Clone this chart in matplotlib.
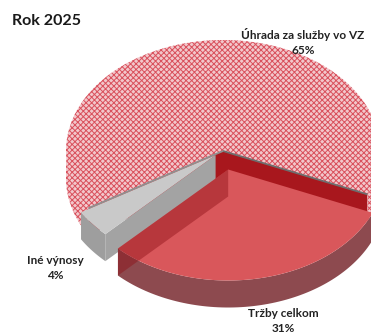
import numpy as np
import matplotlib.pyplot as plt
from matplotlib.patches import Polygon

plt.rcParams['hatch.linewidth'] = 0.7

# podiel výnosov za rok 2025 (%)
categories = ["Úhrada za služby vo VZ", "Iné výnosy", "Tržby celkom"]
values = [65, 4, 31]
explode = [0.0, 0.06, 0.17]

top_colors = ["#f2c7cb", "#c9c9c9", "#d9575b"]
side_colors = ["#f2c7cb", "#9e9e9e", "#8d4a4f"]
cut_colors = ["#a8171d", "#a3a3a3", "#8e1017"]
hatches = ["xxxxxx", None, None]
label_pos = [(303, 42), (55, 268), (283, 321)]

# geometria 3D koláča (v pixeloch)
cx, cy = 223, 151
rx, ry = 157, 111
depth = 27
start_angle = -23

width_px, height_px, dpi = 371, 336, 100
fig = plt.figure(figsize=(width_px / dpi, height_px / dpi), dpi=dpi)
ax = fig.add_axes([0, 0, 1, 1])
ax.set_xlim(0, width_px)
ax.set_ylim(height_px, 0)
ax.axis('off')


def pt(ox, oy, ang, dz=0):
    a = np.radians(ang)
    return ox + rx * np.cos(a), oy - ry * np.sin(a) + dz


def arc(ox, oy, a1, a2, dz=0, n=80):
    angs = np.linspace(a1, a2, n)
    return [pt(ox, oy, a, dz) for a in angs]


def cut_face(ox, oy, t):
    p = pt(ox, oy, t)
    return [(ox, oy), p, (p[0], p[1] + depth), (ox, oy + depth)]


total = sum(values)
bounds = [start_angle]
for v in values:
    bounds.append(bounds[-1] + 360 * v / total)

for i, v in enumerate(values):
    t1, t2 = bounds[i], bounds[i + 1]
    mid = np.radians((t1 + t2) / 2)
    ox = cx + explode[i] * rx * np.cos(mid)
    oy = cy - explode[i] * ry * np.sin(mid)
    hatch = hatches[i]
    ec = "#d9505c" if hatch else "none"
    z = 1 + i

    # rezné steny otočené k divákovi
    for t, nrm in ((t1, t1 - 90), (t2, t2 + 90)):
        if np.sin(np.radians(nrm)) < 0:
            ax.add_patch(Polygon(cut_face(ox, oy, t), closed=True,
                                 facecolor=cut_colors[i], edgecolor="none",
                                 zorder=z))

    # bočná stena - predná polovica elipsy (180° až 360°)
    for k in (-1, 0, 1):
        lo, hi = max(t1, 180 + 360 * k), min(t2, 360 + 360 * k)
        if hi > lo:
            upper = arc(ox, oy, lo, hi)
            lower = arc(ox, oy, lo, hi, dz=depth)[::-1]
            ax.add_patch(Polygon(upper + lower, closed=True,
                                 facecolor=side_colors[i], edgecolor=ec,
                                 hatch=hatch, lw=0, zorder=z + 0.5))

    # vrchná plocha výseku
    face = [(ox, oy)] + arc(ox, oy, t1, t2, n=200)
    ax.add_patch(Polygon(face, closed=True, facecolor=top_colors[i],
                         edgecolor=ec, hatch=hatch, lw=0, zorder=z + 0.7))

    # priesvitný červený výsek - zadná rezná stena presvitá cez vrch
    if i == 2:
        ax.add_patch(Polygon(cut_face(ox, oy, t1), closed=True,
                             facecolor=cut_colors[i], edgecolor="none",
                             alpha=0.45, zorder=z + 0.8))

    if i == 0:
        for t, col in ((t1, "#6d6d6d"), (t2, "#8f8f8f")):
            p = pt(ox, oy, t)
            ax.plot([ox, p[0]], [oy, p[1]], color=col, lw=1.3,
                    solid_capstyle="butt", zorder=z + 0.8)

    lx, ly = label_pos[i]
    ax.text(lx, ly, f"{categories[i]}\n{v}%", ha="center", va="center",
            fontsize=8.5, fontweight="bold", family="Lato",
            color="#222222", linespacing=1.35, zorder=10)

ax.text(12, 21, "Rok 2025", ha="left", va="center", fontsize=11.5,
        fontweight="bold", family="Lato", color="#1a1a1a")

fig.savefig("out.png", dpi=dpi)
plt.close(fig)
